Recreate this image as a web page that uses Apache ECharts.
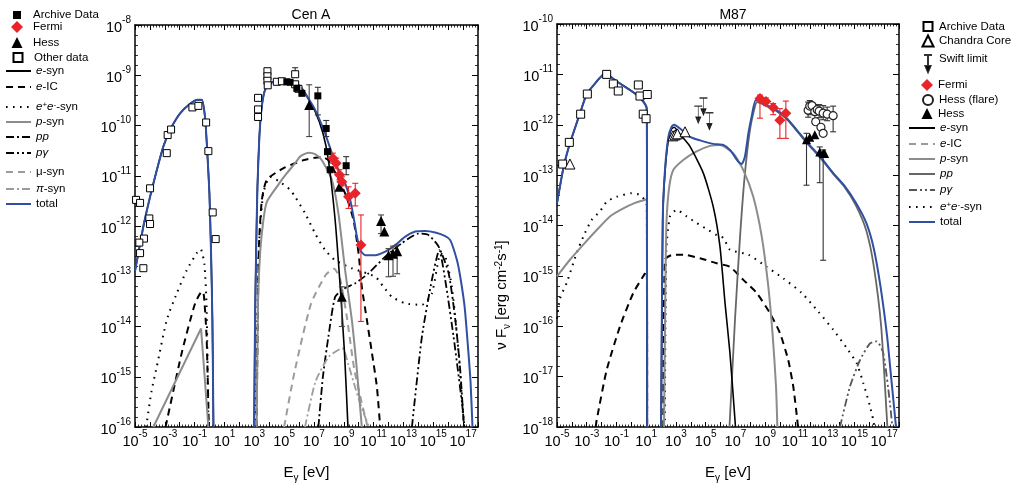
<!DOCTYPE html>
<html><head><meta charset="utf-8">
<script src="https://cdn.jsdelivr.net/npm/echarts@6/dist/echarts.min.js"></script>
<style>html,body{margin:0;padding:0;background:#fff}#c{width:1018px;height:494px}</style>
</head><body><div id="c"></div>
<script>
// All values: [log10(E / eV), log10(nuFnu / erg cm^-2 s^-1)]
// ---------- Cen A ----------
const cenA_total = [
 [[-5,-12.9],[-4.44,-12.01],[-3.99,-11.42],[-3.54,-10.89],[-3.1,-10.42],[-2.65,-10.09],[-1.98,-9.76],[-1.31,-9.57],[-0.8,-9.49],[-0.52,-9.49],[-0.3,-9.85],[-0.15,-10.55],[-0.01,-11.35],[0.1,-12.54],[0.19,-13.87],[0.26,-16]],
 [[2.99,-16],[3.05,-13.87],[3.12,-12.54],[3.21,-11.22],[3.34,-10.22],[3.5,-9.63],[3.72,-9.29],[4.06,-9.16],[4.73,-9.09],[5.4,-9.11],[5.74,-9.16],[6.07,-9.22],[6.41,-9.36],[7.08,-9.69],[7.75,-10.16],[8.2,-10.55],[8.64,-10.89],[9.09,-11.15],[9.43,-11.48],[9.65,-11.81],[9.88,-12.21],[10.1,-12.48],[10.44,-12.58],[11.11,-12.58],[11.78,-12.51],[12.45,-12.38],[13.12,-12.21],[13.79,-12.11],[14.46,-12.1],[15.13,-12.13],[15.8,-12.2],[16.14,-12.28],[16.59,-12.68],[16.81,-13.01],[17.1,-13.6],[17.3,-14.3],[17.5,-15.1],[17.63,-16]]
];
const cenA_eSyn = [
 [[-5,-12.9],[-4.44,-12.01],[-3.99,-11.42],[-3.54,-10.89],[-3.1,-10.42],[-2.65,-10.09],[-1.98,-9.76],[-1.31,-9.57],[-0.8,-9.49],[-0.52,-9.49],[-0.3,-9.85],[-0.15,-10.55],[-0.01,-11.35],[0.1,-12.54],[0.19,-13.87],[0.26,-16]],
 [[2.99,-16],[3.05,-13.87],[3.12,-12.54],[3.21,-11.22],[3.34,-10.22],[3.5,-9.63],[3.72,-9.29],[4.06,-9.16],[4.73,-9.09],[5.4,-9.11],[5.74,-9.16],[6.07,-9.22],[6.41,-9.36],[7.08,-9.72],[7.6,-10.15],[7.97,-10.69],[8.42,-11.88],[8.76,-13.21],[9.05,-14.53],[9.28,-16]]
];
const cenA_eIC = [
 [[-2.95,-16],[-1.87,-14.53],[-0.97,-13.54],[-0.5,-13.3],[-0.38,-13.38],[-0.2,-14.2],[-0.05,-16]],
 [[3.15,-16],[3.3,-12.5],[3.5,-11.5],[3.84,-11.08],[4.96,-10.85],[6.3,-10.69],[7.08,-10.64],[7.5,-10.63],[7.97,-10.69],[9.09,-11.35],[9.65,-11.88],[9.99,-12.54],[10.21,-13.21],[10.55,-13.87],[10.89,-14.53],[11.22,-15.2],[11.44,-16]]
];
const cenA_eeSyn = [
 [[-4.25,-16],[-3.9,-15.3],[-3.54,-14.8],[-2.87,-13.87],[-2.2,-13.34],[-1.53,-12.88],[-0.86,-12.54],[-0.6,-12.46],[-0.35,-12.75],[-0.2,-13.6],[-0.08,-16]],
 [[3.1,-16],[3.3,-12.5],[3.6,-11.35],[4.06,-11.02],[4.6,-11.1],[5.4,-11.28],[5.74,-11.42],[6.41,-11.75],[7.08,-12.15],[7.75,-12.48],[8.42,-12.68],[9.54,-12.84],[11.11,-13.01],[11.66,-13.21],[12.23,-13.41],[13.12,-13.54],[14.24,-13.57],[14.91,-13.34],[15.5,-12.55],[15.8,-12.6],[16.25,-13.21],[16.7,-14.53],[17.03,-15.9],[17.06,-16]]
];
const cenA_pSyn = [
 [[-3.77,-16],[-0.57,-14.04],[-0.08,-16]],
 [[3.16,-16],[3.25,-13.5],[3.39,-12.54],[3.61,-11.88],[3.84,-11.52],[4.51,-11.22],[5.18,-10.95],[5.74,-10.75],[6.07,-10.62],[6.63,-10.54],[7.08,-10.57],[7.53,-10.69],[8.2,-11.08],[8.64,-11.75],[9.09,-12.88],[9.54,-13.87],[9.88,-14.87],[10.21,-16]]
];
const cenA_pp = [
 [[7.3,-16],[7.6,-15.0],[7.97,-14.2],[8.42,-13.41],[9.0,-13.25],[9.77,-13.14],[10.66,-12.94],[11.78,-12.61],[12.9,-12.34],[14.01,-12.15],[14.68,-12.18],[15.36,-12.41],[16.03,-12.94],[16.48,-13.87],[16.81,-14.87],[17.03,-15.86],[17.08,-16]]
];
const cenA_pGamma = [
 [[13.57,-16],[14.24,-14.2],[14.91,-13.07],[15.4,-12.48],[15.8,-13.07],[16.36,-14.2],[16.93,-15.53],[17.1,-16]]
];
const cenA_muSyn = [
 [[5.0,-16],[5.7,-14.9],[6.8,-13.55],[7.8,-12.97],[8.35,-12.85],[8.75,-13.05],[9.2,-13.8],[9.7,-14.85],[10.15,-15.45],[10.6,-16]]
];
const cenA_piSyn = [
 [[6.4,-16],[7.1,-15.1],[8.0,-14.6],[8.9,-14.43],[9.3,-14.75],[9.8,-15.25],[10.3,-15.7],[10.7,-16]]
];
// data points: [logE, logF, errLow, errHigh]
const cenA_otherData = [[-4.93,-11.48],[-4.66,-11.54],[-3.99,-11.25],[-4.04,-11.85],[-3.99,-11.96],[-4.4,-12.25],[-4.71,-12.33],[-4.66,-12.54],[-4.44,-12.84],[-2.87,-10.55],[-2.81,-10.19],[-2.58,-10.08],[-1.15,-9.64],[-0.75,-9.61],[-0.23,-9.94],[-0.08,-10.51],[0.21,-11.73],[0.41,-12.26],
 [3.25,-9.45],[3.25,-9.68],[3.25,-9.83],[3.88,-8.92],[3.88,-9.02],[3.88,-9.11],[3.9,-9.2],[4.51,-9.13],[4.85,-9.12],[5.74,-8.98,-9.0,-8.85],[5.74,-9.18],[5.96,-9.27]];
const cenA_archive = [[5.18,-9.13],[5.4,-9.14],[5.85,-9.26],[6.19,-9.36],[7.26,-9.41,-9.79,-9.24],[7.82,-10.06,-10.22,-9.9],[7.91,-10.52],[8.09,-10.88],[9.16,-10.8,-10.98,-10.62]];
const cenA_hess = [[6.68,-9.59,-10.22,-9.19],[8.71,-11.22],[8.87,-13.41,-14.0,-13.21],[11.5,-11.9,-12.15,-11.78],[11.72,-12.11],[12.0,-12.58,-13.01,-12.45],[12.3,-12.55,-13.0,-12.4],[12.58,-12.5,-12.95,-12.38]];
const cenA_fermi = [[8.27,-10.65,-10.75,-10.55],[8.49,-10.75,-10.85,-10.65],[8.71,-10.98,-11.08,-10.88],[8.87,-11.12,-11.2,-11.02],[9.32,-11.42,-11.65,-11.22],[9.77,-11.35,-11.6,-11.15],[10.15,-12.38,-13.9,-11.78]];

// ---------- M87 ----------
const m87_total = [
 [[-5,-13.56],[-4.55,-12.83],[-4.13,-12.37],[-3.45,-11.77],[-3.0,-11.39],[-2.44,-11.18],[-2.09,-11.06],[-1.77,-10.98],[-0.99,-11.14],[-0.09,-11.31],[0.58,-11.46],[1.03,-11.67],[1.05,-13.0],[1.06,-18]],
 [[2.0,-18],[2.11,-13.89],[2.26,-12.9],[2.49,-12.24],[2.71,-12.04],[2.87,-12.0],[3.38,-12.1],[3.94,-12.24],[4.62,-12.31],[5.51,-12.38],[6.18,-12.4],[6.63,-12.5],[7.19,-12.73],[7.42,-12.78],[7.64,-12.63],[7.87,-12.17],[8.09,-11.84],[8.38,-11.51],[9.1,-11.61],[9.77,-11.71],[10.45,-11.87],[11.12,-12.1],[11.79,-12.34],[12.69,-12.63],[13.58,-12.96],[14.3,-13.2],[15.1,-13.55],[15.8,-13.95],[16.3,-14.45],[16.75,-15.2],[17.2,-16.2],[17.5,-17.1],[17.8,-18]]
];
const m87_eSyn = [
 [[-5,-13.56],[-4.55,-12.83],[-4.13,-12.37],[-3.45,-11.77],[-3.0,-11.39],[-2.44,-11.18],[-2.09,-11.06],[-1.77,-10.98],[-0.99,-11.14],[-0.09,-11.31],[0.58,-11.46],[1.03,-11.67],[1.05,-13.0],[1.06,-18]],
 [[2.0,-18],[2.11,-13.89],[2.26,-12.95],[2.49,-12.3],[2.71,-12.08],[2.87,-12.05],[3.3,-12.2],[3.94,-12.43],[4.84,-12.96],[5.51,-13.63],[5.96,-14.42],[6.3,-15.54],[6.63,-16.53],[6.97,-17.86],[7.0,-18]]
];
const m87_eIC = [
 [[-2.4,-18],[-2.33,-17.86],[-1.66,-16.87],[-0.76,-16.0],[0.13,-15.34],[0.92,-14.95],[1.04,-14.9],[1.06,-18]],
 [[2.15,-18],[2.26,-14.68],[2.82,-14.58],[3.49,-14.58],[4.62,-14.65],[5.74,-14.75],[6.63,-14.82],[7.53,-15.08],[8.43,-15.34],[9.32,-15.74],[10.0,-16.14],[10.55,-16.67],[10.89,-17.2],[11.16,-17.86],[11.2,-18]]
];
const m87_pSyn = [
 [[-5,-15.01],[-4.13,-14.68],[-3.23,-14.38],[-2.33,-14.09],[-1.44,-13.82],[-0.54,-13.66],[0.25,-13.55],[0.92,-13.49],[1.04,-13.48],[1.06,-18]],
 [[2.2,-18],[2.3,-15.0],[2.37,-13.89],[2.55,-13.23],[2.82,-12.9],[3.49,-12.7],[4.39,-12.53],[5.29,-12.42],[5.96,-12.4],[6.86,-12.57],[7.53,-12.9],[8.2,-13.43],[8.77,-14.22],[9.21,-15.21],[9.51,-16.2],[9.73,-17.2],[9.82,-18]]
];
const m87_pp = [
 [[6.6,-18],[6.97,-15.87],[7.31,-14.22],[7.64,-12.96],[7.98,-12.1],[8.32,-11.63],[8.45,-11.55],[9.1,-11.63],[9.77,-11.73],[10.45,-11.89],[11.12,-12.12],[11.79,-12.36],[12.69,-12.65],[13.58,-12.98],[14.3,-13.22],[15.1,-13.6],[15.8,-14.1],[16.3,-14.8],[16.8,-16.0],[17.2,-17.9],[17.22,-18]]
];
const m87_pGamma = [
 [[14.03,-18],[14.7,-17.2],[15.38,-16.67],[16.05,-16.34],[16.5,-16.3],[16.94,-16.53],[17.39,-17.52],[17.55,-18]]
];
const m87_eeSyn = [
 [[-5,-15.85],[-4.8,-15.45],[-4.35,-15.14],[-3.68,-14.55],[-3.23,-14.22],[-2.67,-13.89],[-2.11,-13.72],[-1.66,-13.53],[-0.99,-13.43],[0.02,-13.36],[0.58,-13.39],[0.92,-13.5],[1.04,-13.6],[1.06,-18]],
 [[2.25,-18],[2.35,-14.5],[2.6,-13.82],[3.05,-13.69],[3.72,-13.82],[4.39,-13.95],[4.95,-14.05],[5.74,-14.19],[6.2,-14.25],[6.63,-14.48],[7.87,-14.58],[9.1,-14.82],[10.22,-15.05],[11.46,-15.34],[12.57,-15.71],[13.58,-16.07],[14.48,-16.43],[15.15,-16.73],[15.6,-17.13],[16.05,-17.59],[16.27,-17.86],[16.35,-18]]
];
const m87_archive = [[-4.62,-12.78],[-4.17,-12.35],[-3.41,-11.79],[-2.96,-11.39],[-1.66,-11.0],[-1.21,-11.19],[-0.88,-11.33],[0.47,-11.21],[0.58,-11.43],[1.07,-11.4],[0.8,-11.79],[0.99,-11.88]];
const m87_chandra = [[-4.13,-12.78],[2.8,-12.22],[2.95,-12.2],[3.1,-12.18],[3.61,-12.14]];
const m87_swift = [[4.5,-11.64],[4.85,-11.48],[5.25,-11.77]];
const m87_fermi = [[8.65,-11.48,-11.87,-11.41],[9.05,-11.54,-11.62,-11.47],[9.54,-11.66,-11.8,-11.58],[9.99,-11.91,-12.27,-11.68],[10.39,-11.77,-12.27,-11.53]];
const m87_hessFlare = [[11.89,-11.71,-11.85,-11.55],[12.0,-11.63,-11.8,-11.52],[12.15,-11.62],[12.34,-11.74,-11.88,-11.6],[12.5,-11.7],[12.63,-11.73,-11.86,-11.6],[12.9,-11.77,-11.9,-11.62],[13.17,-11.79,-11.92,-11.65],[13.57,-11.82,-12.14,-11.63],[12.4,-11.94],[12.75,-12.05],[12.9,-12.17]];
const m87_hess = [[11.78,-12.3,-13.2,-12.17],[12.0,-12.25],[12.34,-12.2],[12.67,-12.54,-13.15,-12.44],[12.9,-12.57,-14.69,-12.5],[13.0,-12.57]];

// ---------- helpers ----------
const FONT = '"Liberation Sans", Arial, Helvetica, sans-serif';
const tickRich = {
  b:{fontFamily:FONT,fontSize:14.5,color:'#000',lineHeight:20,verticalAlign:'bottom'},
  s:{fontFamily:FONT,fontSize:10,color:'#000',lineHeight:11,verticalAlign:'top'}
};
const nameRich = {
  e:{fontFamily:FONT,fontSize:15,color:'#000',lineHeight:18,verticalAlign:'top'},
  g:{fontFamily:FONT,fontSize:10,color:'#000',lineHeight:8,verticalAlign:'bottom'}
};
function xAx(grid,pos,show){
  return {type:'value',gridIndex:grid,position:pos,min:-5,max:18,interval:1,
    axisLine:{show:true,onZero:false,lineStyle:{color:'#000',width:1.5}},
    axisTick:{show:true,inside:true,length:5,lineStyle:{color:'#000',width:1}},
    minorTick:{show:true,splitNumber:5,length:2.5,lineStyle:{color:'#000',width:0.8}},
    splitLine:{show:false},minorSplitLine:{show:false},
    axisLabel:{show:show,margin:2,formatter:v=>(Math.abs(v)%2===1?'{b|10}{s|'+v+'}':''),rich:tickRich},
    name:show?'{e|E}{g|γ}{e| [eV]}':'',nameLocation:'middle',nameGap:38,nameTextStyle:{rich:nameRich}};
}
function yAx(grid,pos,min,max,show){
  return {type:'value',gridIndex:grid,position:pos,min:min,max:max,interval:1,
    axisLine:{show:true,onZero:false,lineStyle:{color:'#000',width:1.5}},
    axisTick:{show:true,inside:true,length:6,lineStyle:{color:'#000',width:1}},
    minorTick:{show:true,splitNumber:5,length:3,lineStyle:{color:'#000',width:0.8}},
    splitLine:{show:false},minorSplitLine:{show:false},
    axisLabel:{show:show,margin:4,formatter:v=>'{b|10}{s|'+v+'}',rich:tickRich}};
}
const series = [];
function lines(name,segs,ax,color,width,type,z,smooth){
  segs.forEach(seg=>series.push({type:'line',name:name,xAxisIndex:ax,yAxisIndex:ax,data:seg,symbol:'none',
    smooth:smooth===undefined?0.2:smooth,color:color,lineStyle:{color:color,width:width,type:type,cap:'butt'},
    z:z||2,silent:true,animation:false}));
}
function scat(name,pts,ax,sym,size,fill,stroke,bw){
  series.push({type:'scatter',name:name,xAxisIndex:ax,yAxisIndex:ax,data:pts.map(p=>[p[0],p[1]]),
    symbol:sym,symbolSize:size,itemStyle:{color:fill,borderColor:stroke,borderWidth:bw,opacity:1},z:7,silent:true,animation:false});
}
function errs(name,pts,ax,color,cap){
  const d = pts.filter(p=>p.length>=4).map(p=>[p[0],p[2],p[3]]);
  series.push({type:'custom',name:name,xAxisIndex:ax,yAxisIndex:ax,data:d,encode:{x:0,y:[1,2]},z:6,silent:true,animation:false,
    renderItem:function(params,api){
      const lo=api.coord([api.value(0),api.value(1)]);
      const hi=api.coord([api.value(0),api.value(2)]);
      const st={stroke:color,lineWidth:1.1};
      return {type:'group',children:[
        {type:'line',shape:{x1:lo[0],y1:lo[1],x2:hi[0],y2:hi[1]},style:st},
        {type:'line',shape:{x1:lo[0]-cap,y1:lo[1],x2:lo[0]+cap,y2:lo[1]},style:st},
        {type:'line',shape:{x1:hi[0]-cap,y1:hi[1],x2:hi[0]+cap,y2:hi[1]},style:st}]};
    }});
}
const BLUE='#2f4fa3', GRAY='#8c8c8c', LGRAY='#9c9c9c', RED='#e8242a';
const DASH=[7,5], DOT=[1.6,5.4], DASHDOT=[8,3,2,3], DASHDOTDOT=[8,3,2,3,2,3];

// Cen A (axis index 0)
lines('L:pp',cenA_pp,0,'#000',1.8,DASHDOT);
lines('L:pg',cenA_pGamma,0,'#000',1.8,DASHDOTDOT);
lines('L:mu',cenA_muSyn,0,LGRAY,2,DASH);
lines('L:pi',cenA_piSyn,0,LGRAY,1.8,DASHDOT);
lines('L:ee',cenA_eeSyn,0,'#000',2,DOT);
lines('L:e-IC',cenA_eIC,0,'#000',2,DASH);
lines('L:p-syn',[cenA_pSyn[0]],0,GRAY,2,'solid',3,0);
lines('L:p-syn',[cenA_pSyn[1]],0,GRAY,2,'solid',3);
lines('L:e-syn',cenA_eSyn,0,'#000',1.6,'solid',3);
lines('L:total',cenA_total,0,BLUE,2,'solid',4);
errs('errA1',cenA_otherData,0,'#333',3);
errs('errA2',cenA_archive,0,'#333',3);
errs('errA3',cenA_hess,0,'#444',3);
errs('errA4',cenA_fermi,0,RED,3);
scat('L:Other data',cenA_otherData,0,'rect',7,'#fff','#000',1);
scat('L:Archive Data',cenA_archive,0,'rect',7,'#000','#000',0);
scat('L:Hess',cenA_hess,0,'triangle',10,'#000','#000',0);
scat('L:Fermi',cenA_fermi,0,'diamond',11,RED,RED,0);

// M87 (axis index 1)
lines('R:pg',m87_pGamma,1,'#555',1.8,DASHDOTDOT);
lines('R:ee',m87_eeSyn,1,'#000',2,DOT);
lines('R:e-IC',m87_eIC,1,'#000',2,DASH);
lines('R:pp',m87_pp,1,'#666',1.8,'solid',3);
lines('R:p-syn',m87_pSyn,1,GRAY,2,'solid',3);
lines('R:e-syn',m87_eSyn,1,'#000',1.6,'solid',3);
lines('R:total',m87_total,1,BLUE,2,'solid',4);
errs('errB1',m87_fermi,1,RED,3);
errs('errB2',m87_hessFlare,1,'#333',3);
errs('errB3',m87_hess,1,'#333',3);
scat('R:Archive Data',m87_archive,1,'rect',8,'#fff','#000',1);
scat('R:Chandra Core',m87_chandra,1,'triangle',10,'#fff','#000',1);
scat('R:Fermi',m87_fermi,1,'diamond',11,RED,RED,0);
scat('R:Hess (flare)',m87_hessFlare,1,'circle',8,'#fff','#222',1.2);
scat('R:Hess',m87_hess,1,'triangle',9,'#000','#000',0);
series.push({type:'scatter',name:'R:Swift limit',xAxisIndex:1,yAxisIndex:1,data:m87_swift,
  symbol:'path://M0,0 L8,0 M4,0 L4,14 M1.5,11 L4,17 L6.5,11 Z',symbolSize:[8,17],symbolOffset:[0,8],symbolKeepAspect:false,
  itemStyle:{color:'#000',borderColor:'#000',borderWidth:1},z:7,silent:true,animation:false});

// ---------- legends ----------
const LBL = {
  'Archive Data':'Archive Data','Fermi':'Fermi','Hess':'Hess','Other data':'Other data','Chandra Core':'Chandra Core',
  'Swift limit':'Swift limit','Hess (flare)':'Hess (flare)',
  'e-syn':'{i|e}-syn','e-IC':'{i|e}-IC','ee':'{i|e}{sp|+}{i|e}{sp|-}-syn','p-syn':'{i|p}-syn','pp':'{i|pp}',
  'pg':'{i|pγ}','mu':'μ-syn','pi':'{i|π}-syn','total':'total'
};
const legL = [
 ['L:Archive Data',13,8],['L:Fermi',27,12],['L:Hess',42,11],['L:Other data',56,9],
 ['L:e-syn',71,0],['L:e-IC',87,0],['L:ee',107,0],['L:p-syn',122,0],['L:pp',137,0],['L:pg',153,0],['L:mu',172,0],['L:pi',189,0],['L:total',204,0]
];
const legR = [
 ['R:Archive Data',25,9],['R:Chandra Core',40,11],['R:Swift limit',56,-1],['R:Fermi',85,12],['R:Hess (flare)',99,10],['R:Hess',113,11],
 ['R:e-syn',128,0],['R:e-IC',144,0],['R:p-syn',159,0],['R:pp',174,0],['R:pg',190,0],['R:ee',207,0],['R:total',222,0]
];
const legends = [];
function mkLegend(name,cy,size,side){
  const key = name.slice(2);
  let left,iw,ih,pad,vpad=0;
  const textX = side==='L'?33:938;
  const isLine = size===0;
  if(isLine){ iw = side==='L'?25:26; ih=12; left = side==='L'?5:908; pad = Math.max(0,textX-(left+iw+5)); }
  else if(size<0){ iw=8; ih=17; left=923; pad=Math.max(0,textX-(left+iw+5)); vpad=10; cy=cy+5; }
  else { iw=size; ih=size; left=(side==='L'?17:927)-size/2; pad=Math.max(0,textX-(left+iw+5)); }
  const item = {name:name};
  if(name==='R:e-IC') item.lineStyle = {color:'#9a9a9a'};
  const lg = {left:left,top:cy-ih/2,orient:'vertical',padding:0,itemWidth:iw,itemHeight:ih,itemGap:0,
    selectedMode:false,data:[item],formatter:()=>'{pad|}'+LBL[key],
    textStyle:{fontFamily:FONT,fontSize:11.5,color:'#000',padding:[0,0,vpad,0],
      rich:{pad:{width:pad},i:{fontFamily:FONT,fontSize:11.5,fontStyle:'italic',color:'#000'},
            sp:{fontFamily:FONT,fontSize:8,color:'#000',verticalAlign:'top',lineHeight:8}}}};
  if(isLine) lg.itemStyle = {color:'rgba(0,0,0,0)',borderColor:'rgba(0,0,0,0)',borderWidth:0,opacity:0};
  legends.push(lg);
}
legL.forEach(l=>mkLegend(l[0],l[1],l[2],'L'));
legR.forEach(l=>mkLegend(l[0],l[1],l[2],'R'));

const option = {
  backgroundColor:'#fff',animation:false,
  title:[
    {text:'Cen A',left:306,top:3,textAlign:'center',textStyle:{fontFamily:FONT,fontSize:14,fontWeight:'normal',color:'#000'}},
    {text:'M87',left:728,top:3,textAlign:'center',textStyle:{fontFamily:FONT,fontSize:14,fontWeight:'normal',color:'#000'}}
  ],
  grid:[{left:135,top:25,width:343,height:402},{left:557,top:24,width:342,height:403}],
  xAxis:[xAx(0,'bottom',true),xAx(1,'bottom',true),xAx(0,'top',false),xAx(1,'top',false)],
  yAxis:[yAx(0,'left',-16,-8,true),yAx(1,'left',-18,-10,true),yAx(0,'right',-16,-8,false),yAx(1,'right',-18,-10,false)],
  legend:legends,
  graphic:[{type:'text',x:503,y:295,rotation:Math.PI/2,
    style:{text:'{a|ν F}{b|ν}{a| [erg cm}{c|-2}{a|s}{c|-1}{a|]}',align:'center',verticalAlign:'middle',
      rich:{a:{fontFamily:FONT,fontSize:15,color:'#000',lineHeight:18,verticalAlign:'top'},
            b:{fontFamily:FONT,fontSize:10,color:'#000',lineHeight:8,verticalAlign:'bottom'},
            c:{fontFamily:FONT,fontSize:10,color:'#000',lineHeight:9,verticalAlign:'top'}}}}],
  series:series
};
const chart = echarts.init(document.getElementById('c'),null,{renderer:'canvas'});
chart.setOption(option);
</script></body></html>
